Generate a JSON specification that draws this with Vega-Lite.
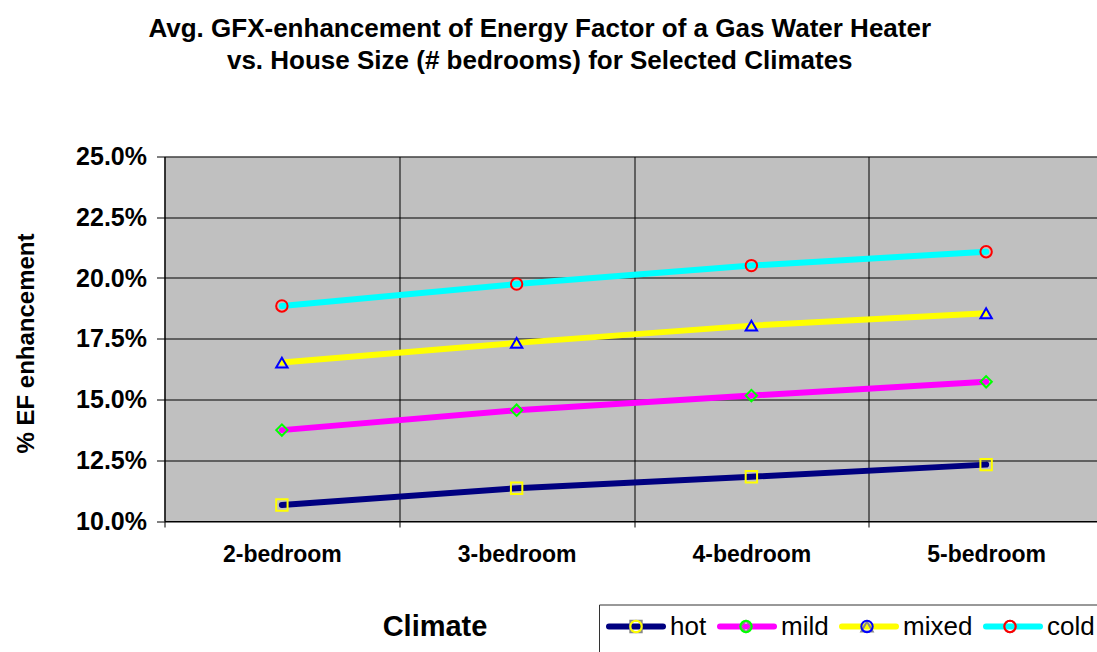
{
  "$schema": "https://vega.github.io/schema/vega-lite/v6.json",
  "width": 932.5,
  "height": 364.5,
  "autosize": {"type": "none"},
  "padding": {"left": 164.5, "top": 156.5, "right": 0, "bottom": 131},
  "background": "white",
  "title": {
    "text": ["Avg. GFX-enhancement of Energy Factor of a Gas Water Heater", "vs. House Size (# bedrooms) for Selected Climates"],
    "font": "Liberation Sans",
    "fontSize": 26,
    "fontWeight": "bold",
    "color": "black",
    "anchor": "middle",
    "frame": "group",
    "dx": -91,
    "offset": 71,
    "lineHeight": 32
  },
  "data": {
    "values": [
      {"climate": "hot", "bedrooms": "2-bedroom", "value": 0.1066},
      {"climate": "hot", "bedrooms": "3-bedroom", "value": 0.1135},
      {"climate": "hot", "bedrooms": "4-bedroom", "value": 0.1182},
      {"climate": "hot", "bedrooms": "5-bedroom", "value": 0.1232},
      {"climate": "mild", "bedrooms": "2-bedroom", "value": 0.1374},
      {"climate": "mild", "bedrooms": "3-bedroom", "value": 0.1456},
      {"climate": "mild", "bedrooms": "4-bedroom", "value": 0.1516},
      {"climate": "mild", "bedrooms": "5-bedroom", "value": 0.1573},
      {"climate": "mixed", "bedrooms": "2-bedroom", "value": 0.1652},
      {"climate": "mixed", "bedrooms": "3-bedroom", "value": 0.1733},
      {"climate": "mixed", "bedrooms": "4-bedroom", "value": 0.1804},
      {"climate": "mixed", "bedrooms": "5-bedroom", "value": 0.1855},
      {"climate": "cold", "bedrooms": "2-bedroom", "value": 0.1885},
      {"climate": "cold", "bedrooms": "3-bedroom", "value": 0.1975},
      {"climate": "cold", "bedrooms": "4-bedroom", "value": 0.2051},
      {"climate": "cold", "bedrooms": "5-bedroom", "value": 0.2108}
    ]
  },
  "encoding": {
    "x": {
      "field": "bedrooms",
      "type": "nominal",
      "sort": ["2-bedroom", "3-bedroom", "4-bedroom", "5-bedroom"],
      "scale": {"type": "band", "range": [0, 939], "paddingInner": 0, "paddingOuter": 0},
      "axis": {
        "title": "Climate",
        "titleFont": "Liberation Sans",
        "titleFontSize": 29,
        "titleFontWeight": "bold",
        "titleColor": "black",
        "titleX": 270,
        "titleY": 114,
        "titleAlign": "center",
        "titleBaseline": "alphabetic",
        "labelAngle": 0,
        "labelFont": "Liberation Sans",
        "labelFontSize": 23,
        "labelFontWeight": "bold",
        "labelColor": "black",
        "labelPadding": 16,
        "tickSize": 6,
        "tickColor": "black",
        "domainColor": "black",
        "grid": true,
        "gridColor": "black",
        "gridOpacity": 1,
        "tickBand": "extent"
      }
    },
    "y": {
      "field": "value",
      "type": "quantitative",
      "scale": {"domain": [0.1, 0.25], "nice": false, "zero": false},
      "axis": {
        "title": "% EF enhancement",
        "format": ".1%",
        "values": [0.1, 0.125, 0.15, 0.175, 0.2, 0.225, 0.25],
        "titleFont": "Liberation Sans",
        "titleFontSize": 24,
        "titleFontWeight": "bold",
        "titleColor": "black",
        "titleX": -131,
        "titleY": 186.5,
        "titleAlign": "center",
        "titleBaseline": "alphabetic",
        "labelFont": "Liberation Sans",
        "labelFontSize": 25,
        "labelFontWeight": "bold",
        "labelColor": "black",
        "labelPadding": 10,
        "tickSize": 8,
        "tickColor": "black",
        "domainColor": "black",
        "grid": true,
        "gridColor": "black",
        "gridOpacity": 1
      }
    }
  },
  "layer": [
    {
      "mark": {"type": "line", "strokeWidth": 6, "strokeCap": "round", "strokeJoin": "round"},
      "encoding": {
        "color": {
          "field": "climate",
          "type": "nominal",
          "scale": {"domain": ["hot", "mild", "mixed", "cold"], "range": ["#000080", "#FF00FF", "#FFFF00", "#00FFFF"]},
          "legend": {
            "orient": "none",
            "legendX": 434.5,
            "legendY": 448,
            "direction": "horizontal",
            "title": null,
            "symbolType": "M-1,0H1",
            "symbolSize": 2916,
            "symbolStrokeWidth": 6,
            "symbolOffset": 0,
            "labelFont": "Liberation Sans",
            "labelFontSize": 26,
            "labelColor": "black",
            "labelOffset": 4,
            "columnPadding": 10,
            "padding": 7,
            "clipHeight": 60,
            "strokeColor": "#333333",
            "fillColor": "white",
            "zindex": 1,
            "encode": {
              "symbols": {"update": {"strokeCap": {"value": "round"}, "y": {"value": 15}}},
              "labels": {"update": {"y": {"value": 15}}}
            }
          }
        }
      }
    },
    {
      "mark": {"type": "point", "filled": false, "strokeWidth": 2, "size": 130, "opacity": 1},
      "encoding": {
        "shape": {
          "field": "climate",
          "type": "nominal",
          "sort": ["hot", "mild", "mixed", "cold"],
          "scale": {"range": ["square", "diamond", "triangle-up", "circle"]},
          "legend": {
            "orient": "none",
            "legendX": 434.5,
            "legendY": 448,
            "direction": "horizontal",
            "title": null,
            "symbolSize": 130,
            "symbolStrokeWidth": 2,
            "symbolOffset": 17,
            "labelFont": "Liberation Sans",
            "labelFontSize": 26,
            "labelOpacity": 0,
            "labelOffset": 20,
            "columnPadding": 10,
            "padding": 7,
            "clipHeight": 30,
            "zindex": 2
          }
        },
        "stroke": {
          "field": "climate",
          "type": "nominal",
          "sort": ["hot", "mild", "mixed", "cold"],
          "scale": {"range": ["#FFFF00", "#00FF00", "#0000FF", "#FF0000"]},
          "legend": {
            "orient": "none",
            "legendX": 434.5,
            "legendY": 448,
            "direction": "horizontal",
            "title": null,
            "symbolSize": 130,
            "symbolStrokeWidth": 2,
            "symbolOffset": 17,
            "labelFont": "Liberation Sans",
            "labelFontSize": 26,
            "labelOpacity": 0,
            "labelOffset": 20,
            "columnPadding": 10,
            "padding": 7,
            "clipHeight": 30,
            "zindex": 2
          }
        }
      }
    }
  ],
  "config": {
    "view": {"fill": "#C0C0C0", "stroke": null},
    "font": "Liberation Sans"
  }
}
